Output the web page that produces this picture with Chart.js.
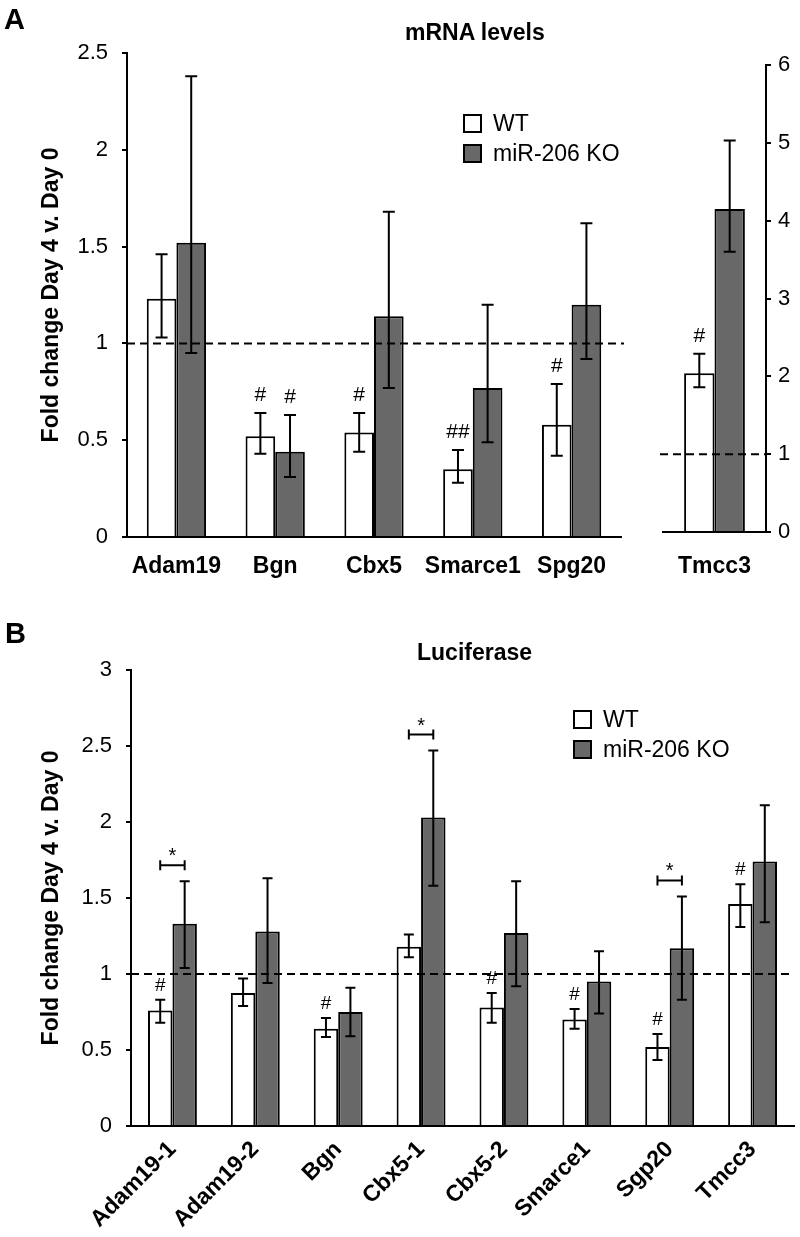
<!DOCTYPE html>
<html>
<head>
<meta charset="utf-8">
<title>mRNA levels / Luciferase</title>
<script src="https://cdn.jsdelivr.net/npm/chart.js@4.4.0/dist/chart.umd.min.js"></script>
<style>
  html, body { margin: 0; padding: 0; background: #fff; }
  #fig { position: relative; width: 800px; height: 1237px; font-family: "Liberation Sans", Arial, Helvetica, sans-serif; color: #000; }
  .box { position: absolute; }
  .letter { position: absolute; font-weight: bold; font-size: 29px; line-height: 1; }
  .title { position: absolute; font-weight: bold; font-size: 23px; line-height: 1; white-space: nowrap; }
</style>
</head>
<body>
<div id="fig">
  <div class="box" style="left:0;top:0;width:640px;height:600px"><canvas id="mrnaChart"></canvas></div>
  <div class="box" style="left:640px;top:0;width:160px;height:600px"><canvas id="tmccChart"></canvas></div>
  <div class="box" style="left:0;top:610px;width:800px;height:627px"><canvas id="lucChart"></canvas></div>
  <div class="letter" style="left:4px;top:5px">A</div>
  <div class="title" style="left:405px;top:21px">mRNA levels</div>
  <div class="letter" style="left:5px;top:619px">B</div>
  <div class="title" style="left:417px;top:641px">Luciferase</div>
</div>
<script>
// ===== Data: panel A, mRNA levels (left axis) =====
const mrnaGenes = ["Adam19", "Bgn", "Cbx5", "Smarce1", "Spg20"];
const mrnaWT = [1.23, 0.52, 0.54, 0.35, 0.58];
const mrnaWTHi = [1.46, 0.64, 0.64, 0.45, 0.79];
const mrnaWTLo = [1.03, 0.43, 0.44, 0.28, 0.42];
const mrnaKO = [1.52, 0.44, 1.14, 0.77, 1.20];
const mrnaKOHi = [2.38, 0.63, 1.68, 1.20, 1.62];
const mrnaKOLo = [0.95, 0.31, 0.77, 0.49, 0.92];
const mrnaWTMarks = ["", "#", "#", "##", "#"];
const mrnaKOMarks = ["", "#", "", "", ""];

// ===== Data: panel A, Tmcc3 (right axis) =====
const tmccGenes = ["Tmcc3"];
const tmccWT = [2.04];
const tmccWTHi = [2.29];
const tmccWTLo = [1.86];
const tmccKO = [4.15];
const tmccKOHi = [5.03];
const tmccKOLo = [3.60];
const tmccWTMarks = ["#"];
const tmccKOMarks = [""];

// ===== Data: panel B, Luciferase =====
const lucGenes = ["Adam19-1", "Adam19-2", "Bgn", "Cbx5-1", "Cbx5-2", "Smarce1", "Sgp20", "Tmcc3"];
const lucWT = [0.76, 0.875, 0.64, 1.18, 0.78, 0.70, 0.52, 1.46];
const lucWTHi = [0.83, 0.97, 0.71, 1.26, 0.875, 0.77, 0.605, 1.59];
const lucWTLo = [0.68, 0.79, 0.585, 1.11, 0.68, 0.64, 0.435, 1.31];
const lucKO = [1.33, 1.28, 0.75, 2.03, 1.27, 0.95, 1.17, 1.74];
const lucKOHi = [1.61, 1.63, 0.91, 2.47, 1.61, 1.15, 1.51, 2.11];
const lucKOLo = [1.04, 0.94, 0.59, 1.58, 0.92, 0.74, 0.83, 1.34];
const lucWTMarks = ["#", "", "#", "", "#", "#", "#", "#"];
const lucKOMarks = ["", "", "", "", "", "", "", ""];
const lucStars = [true, false, false, true, false, false, true, false];

const FONT = "'Liberation Sans', Arial, Helvetica, sans-serif";
const KO_GRAY = "#686868";
Chart.defaults.font.family = FONT;
Chart.defaults.color = "#000";

// tick labels as plain numbers: 0, 0.5, 1, 1.5 ...
const plainTick = v => String(v);

// error bars, dashed line at 1, # marks, * brackets and legend
const barExtras = {
  id: "barExtras",
  afterDatasetsDraw(chart, args, opts) {
    const { ctx, chartArea } = chart;
    const y = chart.scales.y;
    ctx.save();
    ctx.strokeStyle = "#000";
    ctx.fillStyle = "#000";
    ctx.lineWidth = 2;

    // dashed reference line
    const yRef = y.getPixelForValue(1);
    ctx.setLineDash([8, 5]);
    ctx.beginPath();
    ctx.moveTo(chartArea.left + (opts.refStart || 0), yRef);
    ctx.lineTo(chartArea.right + (opts.refEnd || 0), yRef);
    ctx.stroke();
    ctx.setLineDash([]);

    // error bars + marks
    chart.data.datasets.forEach((ds, di) => {
      const meta = chart.getDatasetMeta(di);
      meta.data.forEach((bar, i) => {
        const top = y.getPixelForValue(ds.errHi[i]);
        const bot = y.getPixelForValue(ds.errLo[i]);
        const half = opts.cap / 2;
        ctx.beginPath();
        ctx.moveTo(bar.x, top); ctx.lineTo(bar.x, bot);
        ctx.moveTo(bar.x - half, top); ctx.lineTo(bar.x + half, top);
        ctx.moveTo(bar.x - half, bot); ctx.lineTo(bar.x + half, bot);
        ctx.stroke();
        if (ds.marks && ds.marks[i]) {
          ctx.font = opts.markFont;
          ctx.textAlign = "center";
          ctx.textBaseline = "alphabetic";
          ctx.fillText(ds.marks[i], bar.x, top - opts.markGap);
        }
      });
    });

    // significance brackets between WT and KO
    if (opts.stars) {
      const m0 = chart.getDatasetMeta(0), m1 = chart.getDatasetMeta(1);
      const d0 = chart.data.datasets[0], d1 = chart.data.datasets[1];
      opts.stars.forEach((on, i) => {
        if (!on) return;
        const x0 = m0.data[i].x, x1 = m1.data[i].x;
        const yb = y.getPixelForValue(Math.max(d0.errHi[i], d1.errHi[i])) - 16;
        ctx.beginPath();
        ctx.moveTo(x0, yb); ctx.lineTo(x1, yb);
        ctx.moveTo(x0, yb - 5); ctx.lineTo(x0, yb + 5);
        ctx.moveTo(x1, yb - 5); ctx.lineTo(x1, yb + 5);
        ctx.stroke();
        ctx.font = "20px " + FONT;
        ctx.textAlign = "center";
        ctx.textBaseline = "alphabetic";
        ctx.fillText("*", (x0 + x1) / 2, yb - 3);
      });
    }

    // legend inside the plot
    if (opts.legend) {
      const L = opts.legend;
      chart.data.datasets.forEach((ds, di) => {
        const ty = L.y + di * L.gap;
        ctx.fillStyle = ds.backgroundColor;
        ctx.fillRect(L.x, ty, L.box, L.box);
        ctx.strokeRect(L.x + 1, ty + 1, L.box - 2, L.box - 2);
        ctx.fillStyle = "#000";
        ctx.font = "23px " + FONT;
        ctx.textAlign = "left";
        ctx.textBaseline = "middle";
        ctx.fillText(ds.label, L.x + 30, ty + L.box / 2 + 1);
      });
    }
    ctx.restore();
  }
};

function makeDatasets(wt, wtHi, wtLo, wtMarks, ko, koHi, koLo, koMarks) {
  return [
    { label: "WT", data: wt, errHi: wtHi, errLo: wtLo, marks: wtMarks,
      backgroundColor: "#ffffff", borderColor: "#000", borderWidth: 2 },
    { label: "miR-206 KO", data: ko, errHi: koHi, errLo: koLo, marks: koMarks,
      backgroundColor: KO_GRAY, borderColor: "#000", borderWidth: 2 }
  ];
}

// ===== Panel A: mRNA levels =====
new Chart(document.getElementById("mrnaChart"), {
  type: "bar",
  data: {
    labels: mrnaGenes,
    datasets: makeDatasets(mrnaWT, mrnaWTHi, mrnaWTLo, mrnaWTMarks, mrnaKO, mrnaKOHi, mrnaKOLo, mrnaKOMarks)
  },
  options: {
    responsive: true,
    maintainAspectRatio: false,
    animation: false,
    layout: { padding: { top: 53, right: 19, bottom: 13, left: 0 } },
    datasets: { bar: { categoryPercentage: 0.6, barPercentage: 1 } },
    plugins: {
      legend: { display: false },
      tooltip: { enabled: false },
      barExtras: { cap: 12, markFont: "21px " + FONT, markGap: 12, refEnd: 3,
                   legend: { x: 463, y: 114, box: 19, gap: 30 } }
    },
    scales: {
      x: {
        grid: { display: false, drawTicks: false },
        border: { color: "#000", width: 2 },
        ticks: { color: "#000", font: { size: 23, weight: "bold" }, padding: 16,
                 maxRotation: 0, minRotation: 0, autoSkip: false },
        afterFit: s => { s.height = 50; }
      },
      y: {
        min: 0, max: 2.5,
        ticks: { stepSize: 0.5, color: "#000", font: { size: 22 }, padding: 14, callback: plainTick },
        grid: { drawOnChartArea: false, color: "#000", lineWidth: 2, tickLength: 5 },
        border: { color: "#000", width: 2 },
        title: { display: true, text: "Fold change Day 4 v. Day 0", color: "#000",
                 font: { size: 23, weight: "bold" }, padding: { top: 38, bottom: 0 } },
        afterFit: s => { s.width = 127; }
      }
    }
  },
  plugins: [barExtras]
});

// ===== Panel A: Tmcc3 on its own axis =====
new Chart(document.getElementById("tmccChart"), {
  type: "bar",
  data: {
    labels: tmccGenes,
    datasets: makeDatasets(tmccWT, tmccWTHi, tmccWTLo, tmccWTMarks, tmccKO, tmccKOHi, tmccKOLo, tmccKOMarks)
  },
  options: {
    responsive: true,
    maintainAspectRatio: false,
    animation: false,
    layout: { padding: { top: 65, right: 0, bottom: 18, left: 23 } },
    datasets: { bar: { categoryPercentage: 0.59, barPercentage: 1 } },
    plugins: {
      legend: { display: false },
      tooltip: { enabled: false },
      barExtras: { cap: 12, markFont: "21px " + FONT, markGap: 12, refStart: -3 }
    },
    scales: {
      x: {
        grid: { display: false, drawTicks: false },
        border: { color: "#000", width: 2 },
        ticks: { color: "#000", font: { size: 23, weight: "bold" }, padding: 21,
                 maxRotation: 0, minRotation: 0, autoSkip: false },
        afterFit: s => { s.height = 50; }
      },
      y: {
        position: "right",
        min: 0, max: 6,
        ticks: { stepSize: 1, color: "#000", font: { size: 22 }, padding: 7, callback: plainTick },
        grid: { drawOnChartArea: false, color: "#000", lineWidth: 2, tickLength: 5 },
        border: { color: "#000", width: 2 },
        afterFit: s => { s.width = 34; }
      }
    }
  },
  plugins: [barExtras]
});

// ===== Panel B: Luciferase =====
new Chart(document.getElementById("lucChart"), {
  type: "bar",
  data: {
    labels: lucGenes,
    datasets: makeDatasets(lucWT, lucWTHi, lucWTLo, lucWTMarks, lucKO, lucKOHi, lucKOLo, lucKOMarks)
  },
  options: {
    responsive: true,
    maintainAspectRatio: false,
    animation: false,
    layout: { padding: { top: 60, right: 6, bottom: 0, left: 0 } },
    datasets: { bar: { categoryPercentage: 0.59, barPercentage: 1 } },
    plugins: {
      legend: { display: false },
      tooltip: { enabled: false },
      barExtras: { cap: 10, markFont: "19px " + FONT, markGap: 9, stars: lucStars,
                   legend: { x: 573, y: 100, box: 19, gap: 30 } }
    },
    scales: {
      x: {
        grid: { display: false, drawTicks: false },
        border: { color: "#000", width: 2 },
        ticks: { color: "#000", font: { size: 23, weight: "bold" }, padding: 10,
                 minRotation: 45, maxRotation: 45, autoSkip: false },
        afterFit: s => { s.height = 111; }
      },
      y: {
        min: 0, max: 3,
        ticks: { stepSize: 0.5, color: "#000", font: { size: 22 }, padding: 14, callback: plainTick },
        grid: { drawOnChartArea: false, color: "#000", lineWidth: 2, tickLength: 5 },
        border: { color: "#000", width: 2 },
        title: { display: true, text: "Fold change Day 4 v. Day 0", color: "#000",
                 font: { size: 23, weight: "bold" }, padding: { top: 38, bottom: 0 } },
        afterFit: s => { s.width = 131; }
      }
    }
  },
  plugins: [barExtras]
});
</script>
</body>
</html>
